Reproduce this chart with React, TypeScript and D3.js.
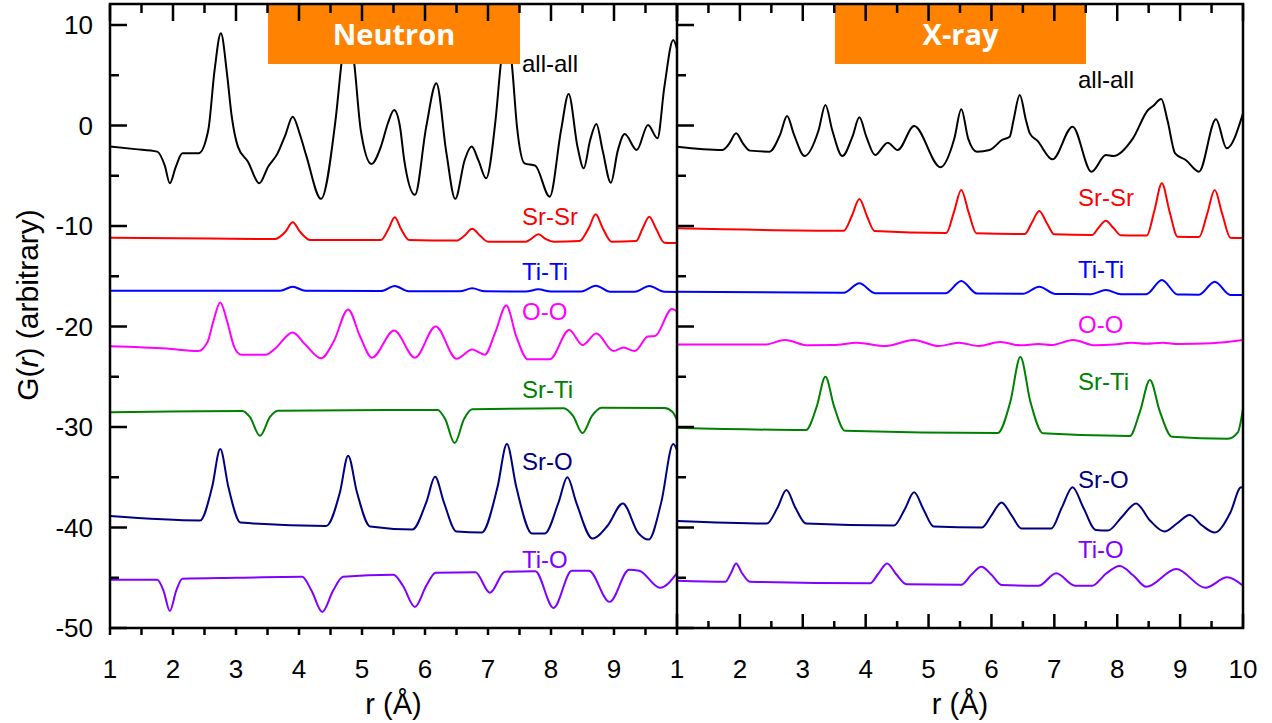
import React from 'react';
import * as d3 from 'd3';

type P = [number, number];

// ---------- tick values / labels ----------
const xMajor = [1, 2, 3, 4, 5, 6, 7, 8, 9, 10];
const xMinor = [1.5, 2.5, 3.5, 4.5, 5.5, 6.5, 7.5, 8.5, 9.5];
const leftXLabels = [1, 2, 3, 4, 5, 6, 7, 8, 9];
const rightXLabels = [1, 2, 3, 4, 5, 6, 7, 8, 9, 10];
const yMajor = [-50, -40, -30, -20, -10, 0, 10];
const yMinor = [-45, -35, -25, -15, -5, 5];
const seriesNames = ['all-all', 'Sr-Sr', 'Ti-Ti', 'O-O', 'Sr-Ti', 'Sr-O', 'Ti-O'];
const panelTitles = ['Neutron', 'X-ray'];

// ---------- Neutron partial PDFs ----------
const neutronAllAll: P[] = [[1.0,-2.1],[1.4,-2.35],[1.75,-2.6],[1.87,-4.0],[1.95,-5.75],[2.04,-4.2],[2.15,-2.77],[2.41,-2.75],[2.56,-0.45],[2.66,5.5],[2.76,9.17],[2.86,5.0],[2.93,1.0],[3.03,-2.1],[3.19,-3.6],[3.37,-5.75],[3.51,-4.1],[3.66,-2.77],[3.78,-1.0],[3.9,0.88],[4.02,-1.0],[4.12,-3.1],[4.35,-7.3],[4.58,0.55],[4.69,7.0],[4.79,10.3],[4.88,6.0],[4.98,-0.45],[5.15,-3.83],[5.3,-2.1],[5.41,0.2],[5.51,1.54],[5.6,0.0],[5.67,-3.43],[5.84,-6.9],[6.02,-0.11],[6.18,4.2],[6.34,-2.75],[6.48,-7.3],[6.63,-3.43],[6.74,-2.1],[6.85,-3.5],[6.97,-5.26],[7.12,0.55],[7.21,6.5],[7.3,9.6],[7.38,6.0],[7.46,-0.11],[7.58,-3.77],[7.75,-4.0],[7.98,-7.08],[8.16,-0.45],[8.28,3.13],[8.42,-2.1],[8.52,-4.26],[8.62,-1.5],[8.72,0.15],[8.82,-2.5],[8.95,-5.69],[9.06,-2.5],[9.17,-0.85],[9.36,-2.44],[9.54,0.05],[9.69,-1.28],[9.8,3.86],[9.94,8.5],[10.0,7.6]];
const neutronSrSr: P[] = [[1.0,-11.16],[2.6,-11.25],[3.62,-11.3],[3.78,-10.6],[3.9,-9.63],[4.02,-10.6],[4.18,-11.4],[5.3,-11.4],[5.42,-10.3],[5.52,-9.13],[5.62,-10.3],[5.75,-11.4],[6.5,-11.45],[6.62,-11.0],[6.75,-10.27],[6.88,-11.0],[7.0,-11.56],[7.6,-11.56],[7.68,-11.3],[7.8,-10.83],[7.92,-11.3],[8.05,-11.56],[8.45,-11.5],[8.6,-10.2],[8.71,-8.84],[8.82,-10.2],[8.96,-11.56],[9.35,-11.5],[9.45,-10.3],[9.56,-9.07],[9.67,-10.3],[9.8,-11.66],[10.0,-11.7]];
const neutronTiTi: P[] = [[1.0,-16.44],[3.7,-16.45],[3.9,-16.04],[4.1,-16.45],[5.3,-16.47],[5.52,-15.97],[5.74,-16.5],[6.55,-16.5],[6.75,-16.2],[6.95,-16.5],[7.6,-16.52],[7.8,-16.3],[8.0,-16.52],[8.48,-16.52],[8.71,-15.94],[8.94,-16.54],[9.33,-16.54],[9.56,-15.97],[9.8,-16.55],[10.0,-16.56]];
const neutronOO: P[] = [[1.0,-21.97],[1.9,-22.2],[2.4,-22.44],[2.55,-21.5],[2.64,-19.5],[2.75,-17.6],[2.86,-19.5],[2.97,-22.0],[3.08,-22.8],[3.48,-22.8],[3.62,-22.2],[3.9,-20.6],[4.1,-21.8],[4.35,-23.17],[4.55,-21.5],[4.78,-18.3],[4.97,-21.0],[5.16,-23.1],[5.51,-20.4],[5.84,-23.1],[6.17,-20.0],[6.5,-23.2],[6.75,-22.3],[6.95,-22.8],[7.12,-20.5],[7.29,-17.9],[7.45,-21.0],[7.63,-23.27],[7.98,-23.27],[8.29,-20.35],[8.5,-21.84],[8.72,-20.7],[8.99,-22.44],[9.15,-22.1],[9.33,-22.44],[9.54,-21.0],[9.65,-20.95],[9.92,-18.26],[10.0,-18.5]];
const neutronSrTi: P[] = [[1.0,-28.54],[3.1,-28.4],[3.22,-29.0],[3.38,-30.87],[3.54,-29.0],[3.66,-28.38],[5.4,-28.3],[6.2,-28.3],[6.32,-29.2],[6.47,-31.6],[6.62,-29.2],[6.75,-28.24],[8.2,-28.14],[8.35,-28.9],[8.5,-30.6],[8.65,-28.9],[8.8,-28.08],[9.8,-28.1],[9.93,-28.5],[10.0,-29.3]];
const neutronSrO: P[] = [[1.0,-38.86],[2.43,-39.3],[2.62,-36.0],[2.75,-32.2],[2.88,-36.0],[3.07,-39.5],[4.43,-39.85],[4.65,-36.5],[4.78,-32.85],[4.92,-36.5],[5.13,-39.9],[5.8,-40.2],[6.02,-37.5],[6.16,-34.95],[6.3,-37.5],[6.5,-40.4],[6.9,-40.5],[7.15,-36.0],[7.3,-31.7],[7.45,-36.0],[7.7,-40.6],[7.9,-40.6],[8.12,-37.5],[8.26,-35.0],[8.4,-37.5],[8.66,-41.1],[8.9,-39.8],[9.14,-37.6],[9.38,-40.5],[9.55,-41.2],[9.75,-37.5],[9.94,-31.7],[10.0,-32.3]];
const neutronTiO: P[] = [[1.0,-45.2],[1.75,-45.2],[1.85,-46.3],[1.95,-48.3],[2.05,-46.3],[2.15,-45.1],[3.0,-45.0],[4.05,-44.9],[4.2,-46.3],[4.37,-48.4],[4.54,-46.3],[4.7,-44.9],[5.5,-44.7],[5.65,-45.8],[5.84,-47.9],[6.02,-45.8],[6.17,-44.5],[6.8,-44.45],[7.03,-46.5],[7.27,-44.4],[7.75,-44.35],[8.04,-48.0],[8.33,-44.3],[8.6,-44.3],[8.93,-47.4],[9.24,-44.2],[9.4,-44.3],[9.73,-46.0],[10.0,-44.55]];

// ---------- X-ray partial PDFs ----------
const xrayAllAll: P[] = [[1.0,-2.11],[1.72,-2.44],[1.83,-1.8],[1.94,-0.78],[2.05,-1.8],[2.16,-2.5],[2.47,-2.6],[2.64,-0.9],[2.75,0.95],[2.86,-0.9],[3.03,-3.04],[3.25,-0.5],[3.36,2.04],[3.47,-0.5],[3.63,-3.04],[3.79,-1.1],[3.9,0.81],[4.01,-1.1],[4.15,-2.94],[4.35,-1.71],[4.51,-2.44],[4.77,-0.05],[5.19,-4.16],[5.41,-1.3],[5.52,1.61],[5.63,-1.3],[5.77,-2.6],[5.97,-2.44],[6.17,-1.44],[6.29,-1.11],[6.35,0.5],[6.45,3.03],[6.55,0.5],[6.61,-0.78],[6.73,-1.51],[6.97,-3.37],[7.29,-0.12],[7.59,-4.6],[7.82,-2.94],[7.94,-3.04],[8.25,-1.28],[8.49,1.54],[8.57,1.94],[8.7,2.64],[8.8,0.5],[8.92,-2.77],[9.09,-3.43],[9.3,-4.6],[9.57,0.61],[9.74,-2.27],[10.0,1.21]];
const xraySrSr: P[] = [[1.0,-10.23],[3.65,-10.47],[3.78,-9.0],[3.9,-7.31],[4.02,-9.0],[4.14,-10.5],[5.28,-10.7],[5.4,-8.7],[5.52,-6.42],[5.64,-8.7],[5.76,-10.73],[6.53,-10.8],[6.64,-9.7],[6.76,-8.5],[6.88,-9.7],[7.0,-10.83],[7.6,-10.9],[7.7,-10.2],[7.82,-9.47],[7.94,-10.2],[8.06,-10.93],[8.47,-10.95],[8.59,-8.5],[8.71,-5.75],[8.83,-8.5],[8.96,-11.06],[9.3,-11.1],[9.43,-8.8],[9.55,-6.42],[9.67,-8.8],[9.8,-11.16],[10.0,-11.2]];
const xrayTiTi: P[] = [[1.0,-16.54],[3.65,-16.65],[3.9,-15.7],[4.15,-16.68],[5.27,-16.7],[5.52,-15.47],[5.77,-16.72],[6.5,-16.75],[6.76,-16.04],[7.02,-16.77],[7.58,-16.78],[7.82,-16.37],[8.06,-16.8],[8.46,-16.8],[8.71,-15.37],[8.96,-16.82],[9.3,-16.83],[9.55,-15.54],[9.8,-16.86],[10.0,-16.87]];
const xrayOO: P[] = [[1.0,-21.78],[2.39,-21.8],[2.72,-21.35],[3.08,-21.87],[3.49,-21.85],[3.86,-21.62],[4.32,-21.94],[4.76,-21.34],[5.16,-21.94],[5.48,-21.62],[5.8,-21.94],[6.14,-21.55],[6.46,-21.87],[6.75,-21.75],[6.95,-21.85],[7.3,-21.35],[7.65,-21.87],[7.95,-21.8],[8.23,-21.62],[8.46,-21.72],[8.72,-21.62],[8.98,-21.75],[9.5,-21.67],[10.0,-21.35]];
const xraySrTi: P[] = [[1.0,-30.07],[3.05,-30.3],[3.22,-28.0],[3.36,-25.0],[3.5,-28.0],[3.67,-30.37],[6.1,-30.6],[6.3,-27.5],[6.46,-23.03],[6.62,-27.5],[6.82,-30.63],[8.2,-30.9],[8.36,-28.5],[8.52,-25.32],[8.68,-28.5],[8.87,-30.97],[9.76,-31.16],[9.92,-30.5],[10.0,-28.14]];
const xraySrO: P[] = [[1.0,-39.35],[2.43,-39.6],[2.6,-38.0],[2.74,-36.27],[2.88,-38.0],[3.05,-39.6],[4.45,-39.8],[4.62,-38.2],[4.77,-36.5],[4.92,-38.2],[5.08,-39.9],[5.85,-40.0],[6.0,-38.8],[6.16,-37.5],[6.32,-38.8],[6.48,-40.1],[6.95,-40.1],[7.12,-38.0],[7.29,-36.0],[7.46,-38.0],[7.66,-40.25],[7.85,-40.3],[8.08,-38.9],[8.3,-37.6],[8.52,-39.3],[8.75,-40.4],[8.95,-39.6],[9.15,-38.76],[9.35,-39.8],[9.55,-40.5],[9.8,-38.5],[9.97,-36.0],[10.0,-36.1]];
const xrayTiO: P[] = [[1.0,-45.3],[1.77,-45.4],[1.86,-44.5],[1.94,-43.57],[2.03,-44.5],[2.16,-45.4],[4.07,-45.55],[4.2,-44.6],[4.34,-43.57],[4.48,-44.6],[4.65,-45.65],[5.52,-45.7],[5.68,-44.7],[5.84,-43.9],[6.0,-44.7],[6.16,-45.72],[6.75,-45.8],[7.03,-44.56],[7.33,-45.8],[7.6,-45.8],[7.82,-44.6],[8.04,-43.83],[8.26,-44.8],[8.46,-45.9],[8.94,-44.13],[9.4,-46.0],[9.75,-44.96],[10.0,-45.8]];

const neutronData = [neutronAllAll, neutronSrSr, neutronTiTi, neutronOO, neutronSrTi, neutronSrO, neutronTiO];
const xrayData = [xrayAllAll, xraySrSr, xrayTiTi, xrayOO, xraySrTi, xraySrO, xrayTiO];

// ---------- styling ----------
const colors = ['#000000', '#ff0000', '#0000ff', '#ff00ff', '#008000', '#000080', '#8000ff'];
const leftLabelY = [72, 225, 280, 320, 398, 470, 568];
const rightLabelY = [88, 206, 278, 333, 390, 488, 558];

const W = 1272, H = 723;
const TOP = 4, BOTTOM = 628;
const yS = d3.scaleLinear().domain([-50, 12.09]).range([BOTTOM, TOP]);
const xL = d3.scaleLinear().domain([1, 10]).range([110, 677]);
const xR = d3.scaleLinear().domain([1, 10]).range([677, 1243]);
const FONT = "'Liberation Sans', Arial, sans-serif";

function Panel({ x, data, labelYs, title, boxX, clipId, side }: any) {
  const line = d3.line<P>().x(d => x(d[0])).y(d => yS(d[1])).curve(d3.curveMonotoneX);
  const [x0, x1] = x.range();
  return (
    <g>
      <clipPath id={clipId}><rect x={x0} y={TOP} width={x1 - x0} height={BOTTOM - TOP} /></clipPath>
      <g clipPath={`url(#${clipId})`}>
        {data.map((d: P[], i: number) => (
          <path key={i} d={line(d) || ''} fill="none" stroke={colors[i]} strokeWidth={2} strokeLinejoin="round" />
        ))}
      </g>
      {seriesNames.map((n, i) => (
        <text key={n} x={side === 'left' ? 522 : 1078} y={labelYs[i]} fill={colors[i]} fontSize={24} fontFamily={FONT}>{n}</text>
      ))}
      <rect x={boxX[0]} y={TOP + 1} width={boxX[1] - boxX[0]} height={64 - TOP - 1} fill="#ff8200" />
      <text x={(boxX[0] + boxX[1]) / 2} y={45} fill="#ffffff" fontSize={29} fontWeight="bold" fontFamily="'Open Sans', sans-serif" textAnchor="middle">{title}</text>
      {/* top ticks inward */}
      {xMajor.map(t => <line key={'tM' + t} x1={x(t)} x2={x(t)} y1={TOP} y2={TOP + 17} stroke="#000" strokeWidth={2.5} />)}
      {xMinor.map(t => <line key={'tm' + t} x1={x(t)} x2={x(t)} y1={TOP} y2={TOP + 9} stroke="#000" strokeWidth={2.5} />)}
      {/* bottom ticks */}
      {side === 'left'
        ? [...xMajor, ...xMinor].map(t => <line key={'bt' + t} x1={x(t)} x2={x(t)} y1={BOTTOM} y2={BOTTOM + 7} stroke="#000" strokeWidth={2.5} />)
        : <>
            {xMajor.map(t => <line key={'bM' + t} x1={x(t)} x2={x(t)} y1={BOTTOM} y2={BOTTOM - 14} stroke="#000" strokeWidth={2.5} />)}
            {xMinor.map(t => <line key={'bm' + t} x1={x(t)} x2={x(t)} y1={BOTTOM} y2={BOTTOM - 7} stroke="#000" strokeWidth={2.5} />)}
          </>}
      {/* left-side y ticks inward */}
      {yMajor.map(t => <line key={'yM' + t} x1={x0} x2={x0 + 17} y1={yS(t)} y2={yS(t)} stroke="#000" strokeWidth={2.5} />)}
      {yMinor.map(t => <line key={'ym' + t} x1={x0} x2={x0 + 9} y1={yS(t)} y2={yS(t)} stroke="#000" strokeWidth={2.5} />)}
      {/* x tick labels */}
      {(side === 'left' ? leftXLabels : rightXLabels).map(t => (
        <text key={'xl' + t} x={x(t)} y={678} fontSize={26} fontFamily={FONT} textAnchor="middle">{t}</text>
      ))}
      <text x={(x0 + x1) / 2} y={714} fontSize={29} fontFamily={FONT} textAnchor="middle">r (Å)</text>
    </g>
  );
}

export default function App() {
  return (
    <svg width={W} height={H} style={{ position: 'absolute', left: 0, top: 0, background: '#fff' }}>
      <rect x={0} y={0} width={W} height={H} fill="#fff" />
      <Panel x={xL} data={neutronData} labelYs={leftLabelY} title={panelTitles[0]} boxX={[268, 520]} clipId="cl" side="left" />
      <Panel x={xR} data={xrayData} labelYs={rightLabelY} title={panelTitles[1]} boxX={[835, 1086]} clipId="cr" side="right" />
      {/* frames */}
      <rect x={110} y={TOP} width={1243 - 110} height={BOTTOM - TOP} fill="none" stroke="#000" strokeWidth={2.5} />
      <line x1={677} x2={677} y1={TOP} y2={BOTTOM} stroke="#000" strokeWidth={2.5} />
      {/* y tick labels */}
      {yMajor.map(t => (
        <text key={'yl' + t} x={93} y={yS(t) + 9} fontSize={26} fontFamily={FONT} textAnchor="end">{t}</text>
      ))}
      <text transform={`translate(38,305) rotate(-90)`} fontSize={30} fontFamily={FONT} textAnchor="middle">
        G(<tspan fontStyle="italic">r</tspan>) (arbitrary)
      </text>
    </svg>
  );
}
